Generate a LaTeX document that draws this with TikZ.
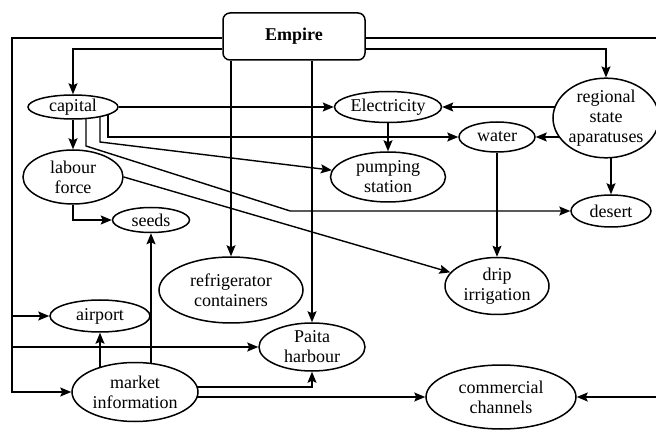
\documentclass[tikz,border=0pt]{standalone}
\usepackage{fontspec}
\setmainfont{Liberation Serif}
\usetikzlibrary{shapes.geometric,arrows.meta}
\pgfdeclarelayer{background}
\pgfsetlayers{background,main}
\begin{document}
\begin{tikzpicture}[x=1pt,y=-1pt,
  every node/.style={font=\fontsize{18}{20}\selectfont, align=center},
  ell/.style={ellipse, draw, line width=1.5pt, fill=white, inner sep=0pt},
  conn/.style={line width=1.4pt, -{Stealth[length=11pt,width=9pt,inset=2pt]}},
  plain/.style={line width=1.4pt}]
\useasboundingbox (0,0) rectangle (656,430);
\node[draw, rounded corners=7pt, line width=1.5pt, minimum width=142pt, minimum height=47pt, fill=white, font=\fontsize{18}{20}\selectfont\bfseries] (empire) at (294,36.5) {Empire};
\node[ell, minimum width=90pt, minimum height=24pt] (capital) at (73,107) {capital};
\node[ell, minimum width=100pt, minimum height=54pt] (labour) at (73,177) {labour\\force};
\node[ell, minimum width=77pt, minimum height=25pt] (seeds) at (151,220) {seeds};
\node[ell, minimum width=107pt, minimum height=31pt] (elec) at (388,107) {Electricity};
\node[ell, minimum width=76pt, minimum height=30pt] (water) at (497,137) {water};
\node[ell, minimum width=115pt, minimum height=50pt] (pump) at (388,177) {pumping\\station};
\node[ell, minimum width=101pt, minimum height=77pt] (reg) at (606,118) {regional\\state\\aparatuses};
\node[ell, minimum width=80pt, minimum height=32pt] (desert) at (611,211) {desert};
\node[ell, minimum width=104pt, minimum height=57pt] (drip) at (497,286) {drip\\irrigation};
\node[ell, minimum width=144pt, minimum height=66pt] (fridge) at (231,290) {refrigerator\\containers};
\node[ell, minimum width=100pt, minimum height=32pt] (airport) at (100,316) {airport};
\node[ell, minimum width=106pt, minimum height=48pt] (paita) at (312,347) {Paita\\harbour};
\node[ell, minimum width=126pt, minimum height=59pt] (market) at (135,392) {market\\information};
\node[ell, minimum width=150pt, minimum height=64pt] (cc) at (501,397) {commercial\\channels};
\coordinate (L) at (12,38);
\coordinate (R) at (659,38);
\begin{pgfonlayer}{background}
\draw[conn] ([yshift=-1.5pt]empire.west) -- (L) |- (market.west);
\draw[conn] (L |- airport.west) -- (airport.west);
\draw[conn] (L |- paita.west) -- (paita.west);
\draw[conn] ([yshift=-1.5pt]empire.east) -- (R) |- (cc.east);
\draw[conn] ([yshift=-12.5pt]empire.west) -| (capital.north);
\draw[conn] ([yshift=-12.5pt]empire.east) -| (reg.north);
\draw[conn] (fridge.north |- empire.south) -- (fridge.north);
\draw[conn] (paita.north |- empire.south) -- (paita.north);
\draw[conn] (capital.east) -- (elec.west);
\draw[conn] (elec.east -| reg.center) -- (elec.east);
\draw[conn] (water.east -| reg.center) -- (water.east);
\draw[conn] (desert.north |- reg.center) -- (desert.north);
\draw[conn] ([xshift=35pt]capital.center) |- (water.west);
\draw[conn] ([xshift=27pt]capital.center) -- ++(0,35) -- (pump);
\draw[conn] ([xshift=13pt]capital.center) -- ++(0,39) -- ([xshift=-280pt]desert.west) -- (desert.west);
\draw[conn] (capital.south) -- (labour.north);
\draw[conn] (labour.south) |- (seeds.west);
\draw[conn] (labour.east) -- (drip);
\draw[conn] (elec.south) -- (pump.north);
\draw[conn] (water.south) -- (drip.north);
\draw[conn] (airport.south |- market.center) -- (airport.south);
\draw[conn] (seeds.south |- market.center) -- (seeds.south);
\draw[conn] ([yshift=5pt]market.center) -| (paita.south);
\draw[conn] (market.center |- cc.west) -- (cc.west);
\end{pgfonlayer}
\end{tikzpicture}
\end{document}
